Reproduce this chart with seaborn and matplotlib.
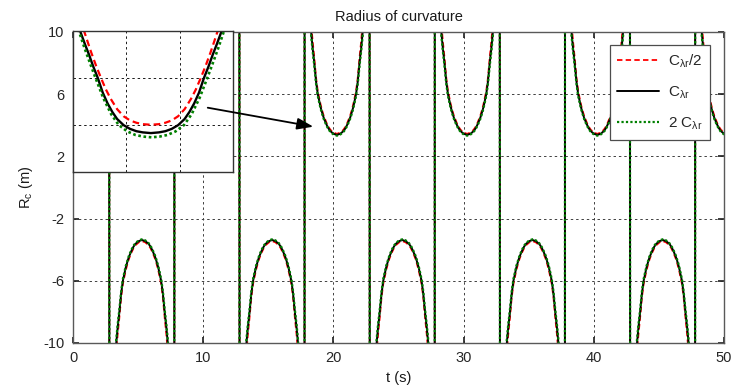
import numpy as np
import pandas as pd
import matplotlib
matplotlib.use("Agg")
import matplotlib.pyplot as plt
import seaborn as sns

# ---------------- data ----------------
# half-lobe profile: offset from lobe centre (s) and |R_c| (m)
lobe_offset = [0.0, 0.25, 0.5, 0.65, 0.8, 1.0, 1.09, 1.25, 1.47, 1.6, 1.75,
               1.87, 1.98, 2.1, 2.2, 2.3, 2.4, 2.47]
lobe_black = [3.38, 3.45, 3.62, 3.80, 4.05, 4.45, 4.68, 5.15, 6.0, 6.8, 8.1,
              9.0, 10.0, 12.0, 14.5, 19.0, 30.0, 80.0]
lobe_red = [3.45, 3.53, 3.71, 3.90, 4.16, 4.58, 4.82, 5.32, 6.2, 7.05, 8.45,
            9.45, 10.6, 12.8, 15.6, 20.5, 33.0, 90.0]
lobe_green = [3.33, 3.40, 3.57, 3.74, 3.98, 4.37, 4.60, 5.05, 5.88, 6.65, 7.92,
              8.8, 9.75, 11.7, 14.1, 18.5, 29.0, 75.0]
pos_centers = [0.27, 10.27, 20.27, 30.27, 40.27, 50.27]
neg_centers = [5.30, 15.30, 25.30, 35.30, 45.30]

# inset (zoom on the minimum near t = 20 s): half profiles
in_black_centre = 20.23
in_black_off = [0, .075, .135, .195, .255, .315, .36, .405, .45, .495, .54,
                .5775, .615, .66, .705, .75]
in_black_val = [3.366, 3.369, 3.374, 3.384, 3.400, 3.426, 3.456, 3.493, 3.539,
                3.600, 3.652, 3.700, 3.744, 3.800, 3.870, 3.951]
in_red_centre = 20.23
in_red_off = [0, .075, .135, .195, .255, .315, .375, .42, .465, .51, .555, .589,
              .623, .6675, .7125, .78]
in_red_val = [3.4016, 3.404, 3.410, 3.420, 3.438, 3.468, 3.512, 3.552, 3.600,
              3.651, 3.707, 3.753, 3.800, 3.865, 3.936, 4.05]
in_green_centre = 20.235
in_green_off = [0, .075, .15, .225, .304, .375, .45, .521, .57, .6225, .677,
                .72, .765]
in_green_val = [3.348, 3.351, 3.358, 3.373, 3.400, 3.446, 3.516, 3.600, 3.660,
                3.726, 3.800, 3.867, 3.941]

labels = [r"C$_{\lambda r}$/2", r"C$_{\lambda r}$", r"2 C$_{\lambda r}$"]
x_ticks = [0, 10, 20, 30, 40, 50]
y_ticks = [-10, -6, -2, 2, 6, 10]


def build(profile_off, profile_val):
    off = np.asarray(profile_off)
    val = np.asarray(profile_val)
    lobes = [(c, 1.0) for c in pos_centers] + [(c, -1.0) for c in neg_centers]
    lobes.sort()
    ts, rs = [], []
    for c, sgn in lobes:
        ts.append(np.concatenate([c - off[::-1], c + off[1:]]))
        rs.append(sgn * np.concatenate([val[::-1], val[1:]]))
    return np.concatenate(ts), np.concatenate(rs)


def mirror(centre, off, val):
    off = np.asarray(off)
    val = np.asarray(val)
    return (np.concatenate([centre - off[::-1], centre + off[1:]]),
            np.concatenate([val[::-1], val[1:]]))


# ---------------- style ----------------
sns.set_theme(style="white")
plt.rcParams["font.family"] = ["Liberation Sans", "DejaVu Sans"]
plt.rcParams["mathtext.default"] = "regular"
plt.rcParams["axes.unicode_minus"] = False

fig = plt.figure(figsize=(7.33, 3.89), dpi=100)
ax = fig.add_axes([0.0996, 0.1183, 0.8881, 0.7995])

styles = [("red", (0, (3, 1.8)), 1.3), ("black", "-", 1.4), ("green", (0, (1, 1)), 1.6)]
series = [build(lobe_offset, lobe_red), build(lobe_offset, lobe_black),
          build(lobe_offset, lobe_green)]

for (t, r), (col, ls, lw), lab in zip(series, styles, labels):
    df = pd.DataFrame({"t": t, "R": r})
    sns.lineplot(data=df, x="t", y="R", ax=ax, color=col, linestyle=ls, lw=lw,
                 sort=False, estimator=None, label=lab)

ax.set_xlim(0, 50)
ax.set_ylim(-10, 10)
ax.set_xticks(x_ticks)
ax.set_yticks(y_ticks)
ax.tick_params(direction="in", length=4, labelsize=10.5, colors="0.15",
               top=True, right=True, bottom=True, left=True, pad=6)
ax.grid(True, color="0.25", linestyle=(0, (2.5, 3)), lw=0.7)
for s in ax.spines.values():
    s.set_color("0.35")
    s.set_linewidth(1.0)
ax.set_title("Radius of curvature", fontsize=10.5, pad=8, color="0.1")
ax.set_xlabel("t (s)", fontsize=10.5, labelpad=4, color="0.1")
ax.set_ylabel(r"R$_{c}$ (m)", fontsize=10.5, labelpad=6, color="0.1")

leg = ax.legend(loc="upper right", bbox_to_anchor=(0.9785, 0.958),
                borderaxespad=0, fontsize=11, handlelength=2.7,
                labelspacing=0.95, fancybox=False, framealpha=1,
                edgecolor="0.3", borderpad=0.5, handletextpad=0.6)
leg.get_frame().set_linewidth(0.9)

# ---------------- inset ----------------
axi = fig.add_axes([0.0992, 0.5578, 0.2191, 0.3617])
axi.set_facecolor("white")
inset_series = [mirror(in_red_centre, in_red_off, in_red_val),
                mirror(in_black_centre, in_black_off, in_black_val),
                mirror(in_green_centre, in_green_off, in_green_val)]
for (t, r), (col, ls, lw) in zip(inset_series, styles):
    sns.lineplot(x=t, y=r, ax=axi, color=col, linestyle=ls, lw=lw + 0.3,
                 sort=False, estimator=None)
axi.set_xlim(19.5, 21.0)
axi.set_ylim(3.2, 3.8)
axi.set_xticks([20.0, 20.5])
axi.set_yticks([3.4, 3.6])
axi.set_xticklabels([])
axi.set_yticklabels([])
axi.tick_params(length=0)
axi.grid(True, color="0.1", linestyle=(0, (2.5, 3)), lw=0.7)
for s in axi.spines.values():
    s.set_color("0.2")
    s.set_linewidth(1.0)

axi.annotate("", xy=(18.46, 3.91), xycoords=ax.transData,
             xytext=(10.35, 5.13), textcoords=ax.transData,
             arrowprops=dict(arrowstyle="-|>,head_length=0.7,head_width=0.25",
                             color="black", lw=1.3, mutation_scale=14,
                             shrinkA=0, shrinkB=0),
             annotation_clip=False)

fig.savefig("out.png", dpi=100)
